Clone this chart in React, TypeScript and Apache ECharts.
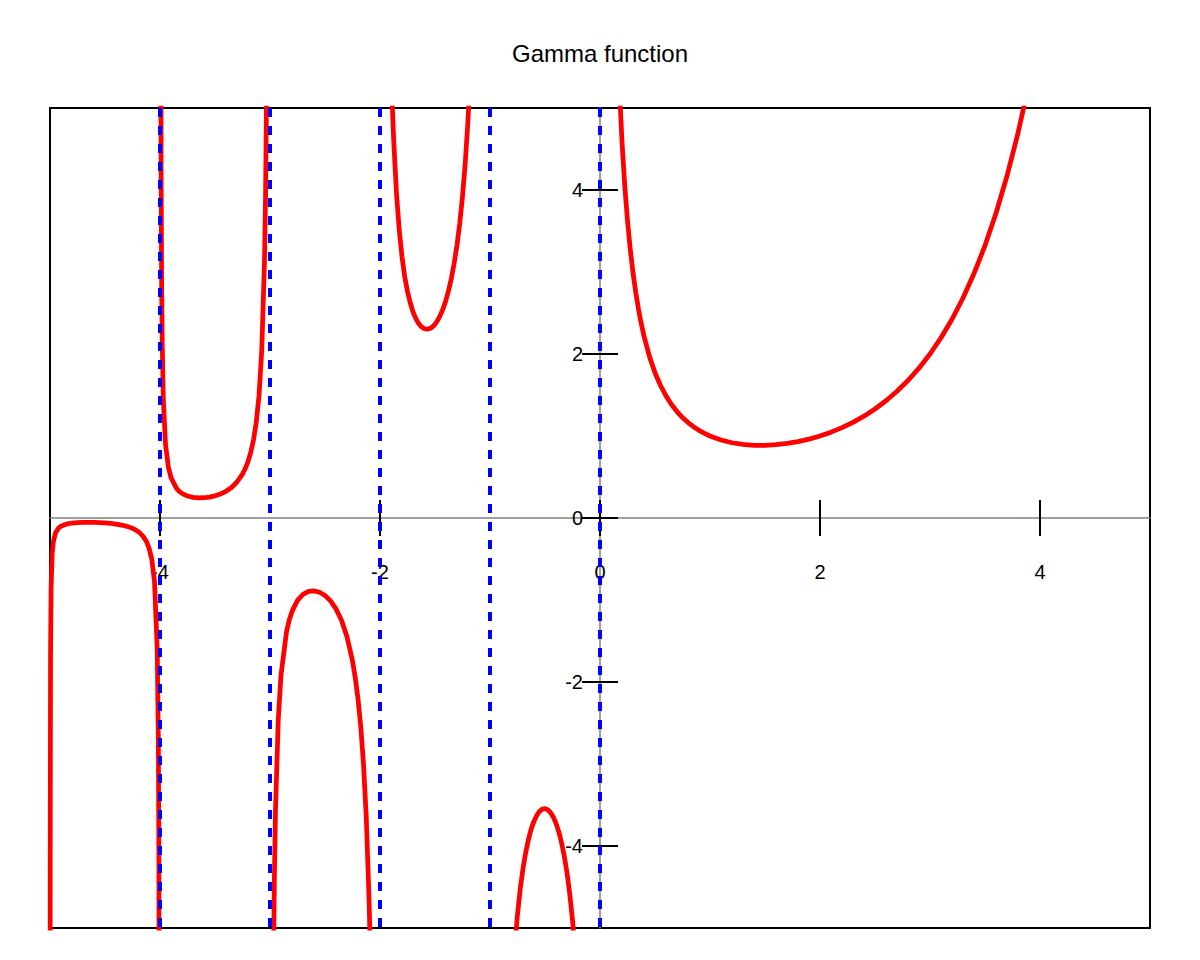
import React, { useEffect, useRef } from "react";
import * as echarts from "echarts";

const chartTitle = "Gamma function";
const xTickValues = [-4, -2, 0, 2, 4];
const yTickValues = [-4, -2, 0, 2, 4];
const poles = [-4, -3, -2, -1, 0];

// Γ(x) on (-5,-4)
const branchM5: number[][] = [
  [-4.999, -8.348], [-4.998, -4.181], [-4.995, -1.681], [-4.99, -0.848], [-4.98, -0.431],
  [-4.97, -0.293], [-4.95, -0.182], [-4.925, -0.127], [-4.9, -0.1], [-4.85, -0.074],
  [-4.825, -0.067], [-4.8, -0.062], [-4.75, -0.056], [-4.7, -0.054], [-4.65, -0.053],
  [-4.6, -0.054], [-4.55, -0.056], [-4.5, -0.06], [-4.45, -0.066], [-4.4, -0.074],
  [-4.35, -0.086], [-4.3, -0.102], [-4.25, -0.126], [-4.225, -0.143], [-4.2, -0.164],
  [-4.175, -0.192], [-4.15, -0.23], [-4.125, -0.283], [-4.1, -0.364], [-4.075, -0.501],
  [-4.05, -0.776], [-4.025, -1.607], [-4.015, -2.715], [-4.01, -4.105], [-4.005, -8.27],
];

// Γ(x) on (-4,-3)
const branchM4: number[][] = [
  [-3.995, 8.397], [-3.99, 4.231], [-3.985, 2.841], [-3.98, 2.148], [-3.97, 1.455],
  [-3.95, 0.902], [-3.925, 0.627], [-3.9, 0.492], [-3.85, 0.361], [-3.825, 0.325],
  [-3.8, 0.3], [-3.75, 0.268], [-3.7, 0.252], [-3.65, 0.245], [-3.6, 0.247],
  [-3.55, 0.255], [-3.5, 0.27], [-3.45, 0.293], [-3.4, 0.326], [-3.35, 0.372],
  [-3.3, 0.439], [-3.25, 0.536], [-3.225, 0.603], [-3.2, 0.689], [-3.175, 0.801],
  [-3.15, 0.952], [-3.125, 1.167], [-3.1, 1.492], [-3.075, 2.04], [-3.05, 3.142],
  [-3.04, 3.962], [-3.03, 5.351], [-3.025, 6.467], [-3.01, 16.461],
];

// Γ(x) on (-3,-2)
const branchM3: number[][] = [
  [-2.975, -6.886], [-2.97, -5.778], [-2.965, -4.986], [-2.96, -4.393], [-2.95, -3.563],
  [-2.925, -2.463], [-2.9, -1.918], [-2.85, -1.388], [-2.825, -1.243], [-2.8, -1.139],
  [-2.75, -1.005], [-2.7, -0.931], [-2.65, -0.896], [-2.6, -0.889], [-2.55, -0.905],
  [-2.5, -0.945], [-2.45, -1.011], [-2.4, -1.108], [-2.35, -1.247], [-2.3, -1.447],
  [-2.25, -1.743], [-2.225, -1.946], [-2.2, -2.205], [-2.175, -2.543], [-2.15, -3.0],
  [-2.125, -3.646], [-2.1, -4.626], [-2.09, -5.16], [-2.075, -6.272],
];

// Γ(x) on (-2,-1)
const branchM2: number[][] = [
  [-1.9, 5.563], [-1.885, 4.924], [-1.875, 4.592], [-1.85, 3.956], [-1.825, 3.511],
  [-1.8, 3.188], [-1.775, 2.94], [-1.75, 2.762], [-1.725, 2.625], [-1.7, 2.514],
  [-1.675, 2.434], [-1.65, 2.374], [-1.625, 2.334], [-1.6, 2.311], [-1.575, 2.302],
  [-1.55, 2.309], [-1.525, 2.328], [-1.5, 2.363], [-1.475, 2.412], [-1.45, 2.477],
  [-1.425, 2.558], [-1.4, 2.659], [-1.375, 2.782], [-1.35, 2.931], [-1.325, 3.112],
  [-1.3, 3.328], [-1.275, 3.594], [-1.25, 3.921], [-1.225, 4.33], [-1.2, 4.851],
  [-1.175, 5.532], [-1.15, 6.449], [-1.125, 7.749],
];

// Γ(x) on (-1,0)
const branchM1: number[][] = [
  [-0.85, -7.318], [-0.825, -6.408], [-0.8, -5.739], [-0.775, -5.229], [-0.75, -4.834],
  [-0.725, -4.522], [-0.7, -4.274], [-0.675, -4.077], [-0.65, -3.917], [-0.625, -3.791],
  [-0.6, -3.697], [-0.575, -3.627], [-0.55, -3.578], [-0.525, -3.551], [-0.5, -3.545],
  [-0.475, -3.558], [-0.45, -3.591], [-0.425, -3.645], [-0.4, -3.723], [-0.375, -3.825],
  [-0.35, -3.957], [-0.325, -4.122], [-0.3, -4.327], [-0.275, -4.584], [-0.25, -4.902],
  [-0.225, -5.304], [-0.2, -5.821], [-0.175, -6.5], [-0.15, -7.417],
];

// Γ(x) on (0,5)
const branchP0: number[][] = [
  [0.1, 9.514], [0.15, 6.22], [0.175, 5.287], [0.2, 4.591], [0.225, 4.053],
  [0.25, 3.626], [0.275, 3.278], [0.3, 2.992], [0.325, 2.752], [0.35, 2.546],
  [0.375, 2.371], [0.4, 2.218], [0.45, 1.968], [0.5, 1.772], [0.55, 1.616],
  [0.6, 1.489], [0.65, 1.385], [0.7, 1.298], [0.75, 1.225], [0.8, 1.164],
  [0.85, 1.113], [0.9, 1.069], [0.95, 1.032], [1.0, 1.0], [1.1, 0.951],
  [1.2, 0.918], [1.3, 0.897], [1.4, 0.887], [1.5, 0.886], [1.6, 0.894],
  [1.7, 0.909], [1.8, 0.931], [1.9, 0.962], [2.0, 1.0], [2.1, 1.047],
  [2.2, 1.102], [2.3, 1.167], [2.4, 1.242], [2.5, 1.329], [2.6, 1.43],
  [2.7, 1.545], [2.8, 1.677], [2.9, 1.827], [3.0, 2.0], [3.1, 2.198],
  [3.2, 2.424], [3.3, 2.683], [3.4, 2.981], [3.5, 3.323], [3.6, 3.717],
  [3.7, 4.171], [3.8, 4.694], [3.9, 5.299],
];

const branches = [branchM5, branchM4, branchM3, branchM2, branchM1, branchP0];

const FONT = "'Liberation Sans', Arial, sans-serif";

export default function App() {
  const ref = useRef<HTMLDivElement>(null);

  useEffect(() => {
    document.body.style.margin = "0";
    const chart = echarts.init(ref.current as HTMLDivElement, null, { renderer: "svg" });

    const tickStyle = { color: "#000", width: 2 };
    const axisLineStyle = { color: "#808080", width: 1.5 };
    const gridCommon = { outerBoundsMode: "none", containLabel: false };
    const range = { type: "value", min: -5, max: 5 };
    const hidden = { ...range, show: false, axisLine: { onZero: false } };

    chart.setOption({
      animation: false,
      backgroundColor: "#ffffff",
      textStyle: { fontFamily: FONT },
      title: {
        text: chartTitle,
        left: "center",
        top: 36,
        textStyle: { fontSize: 24, fontWeight: "normal", color: "#000", fontFamily: FONT },
      },
      grid: [
        // main plotting area
        { ...gridCommon, left: 50, top: 108, width: 1100, height: 820, show: true, borderColor: "#000", borderWidth: 2, backgroundColor: "transparent" },
        // upper half: its bottom edge is the line y = 0
        { ...gridCommon, left: 50, top: 108, width: 1100, height: 410 },
        // lower half: its top edge is the line y = 0
        { ...gridCommon, left: 50, top: 518, width: 1100, height: 410 },
        // right half: its left edge is the line x = 0
        { ...gridCommon, left: 600, top: 108, width: 550, height: 820 },
        // left half: its right edge is the line x = 0
        { ...gridCommon, left: 50, top: 108, width: 550, height: 820 },
      ],
      xAxis: [
        { ...hidden, gridIndex: 0 },
        {
          ...range,
          gridIndex: 1,
          position: "bottom",
          splitLine: { show: false },
          axisLine: { show: true, onZero: false, lineStyle: axisLineStyle },
          axisTick: { show: true, inside: false, length: 18, customValues: xTickValues, lineStyle: tickStyle },
          axisLabel: { show: true, customValues: xTickValues, margin: 44, fontSize: 20, color: "#000", fontFamily: FONT },
        },
        {
          ...range,
          gridIndex: 2,
          position: "top",
          splitLine: { show: false },
          axisLine: { show: false, onZero: false },
          axisTick: { show: true, inside: false, length: 18, customValues: xTickValues, lineStyle: tickStyle },
          axisLabel: { show: false },
        },
        { ...hidden, gridIndex: 3 },
        { ...hidden, gridIndex: 4 },
      ],
      yAxis: [
        { ...hidden, gridIndex: 0 },
        { ...hidden, gridIndex: 1 },
        { ...hidden, gridIndex: 2 },
        {
          ...range,
          gridIndex: 3,
          position: "left",
          splitLine: { show: false },
          axisLine: { show: true, onZero: false, lineStyle: axisLineStyle },
          axisTick: { show: true, inside: false, length: 18, customValues: yTickValues, lineStyle: tickStyle },
          axisLabel: { show: true, customValues: yTickValues, margin: 17, fontSize: 20, color: "#000", fontFamily: FONT },
        },
        {
          ...range,
          gridIndex: 4,
          position: "right",
          splitLine: { show: false },
          axisLine: { show: false, onZero: false },
          axisTick: { show: true, inside: false, length: 18, customValues: yTickValues, lineStyle: tickStyle },
          axisLabel: { show: false },
        },
      ],
      series: [
        ...branches.map((data) => ({
          type: "line",
          xAxisIndex: 0,
          yAxisIndex: 0,
          data,
          symbol: "none",
          showSymbol: false,
          smooth: false,
          clip: true,
          silent: true,
          lineStyle: { color: "#ff0000", width: 4.75, join: "round", cap: "round" },
        })),
        ...poles.map((p) => ({
          type: "line",
          xAxisIndex: 0,
          yAxisIndex: 0,
          data: [
            [p, 5],
            [p, -5],
          ],
          symbol: "none",
          showSymbol: false,
          clip: true,
          silent: true,
          lineStyle: { color: "#0000ff", width: 4, type: [9, 9] },
        })),
      ],
    });

    return () => chart.dispose();
  }, []);

  return <div ref={ref} style={{ width: 1200, height: 960 }} />;
}
